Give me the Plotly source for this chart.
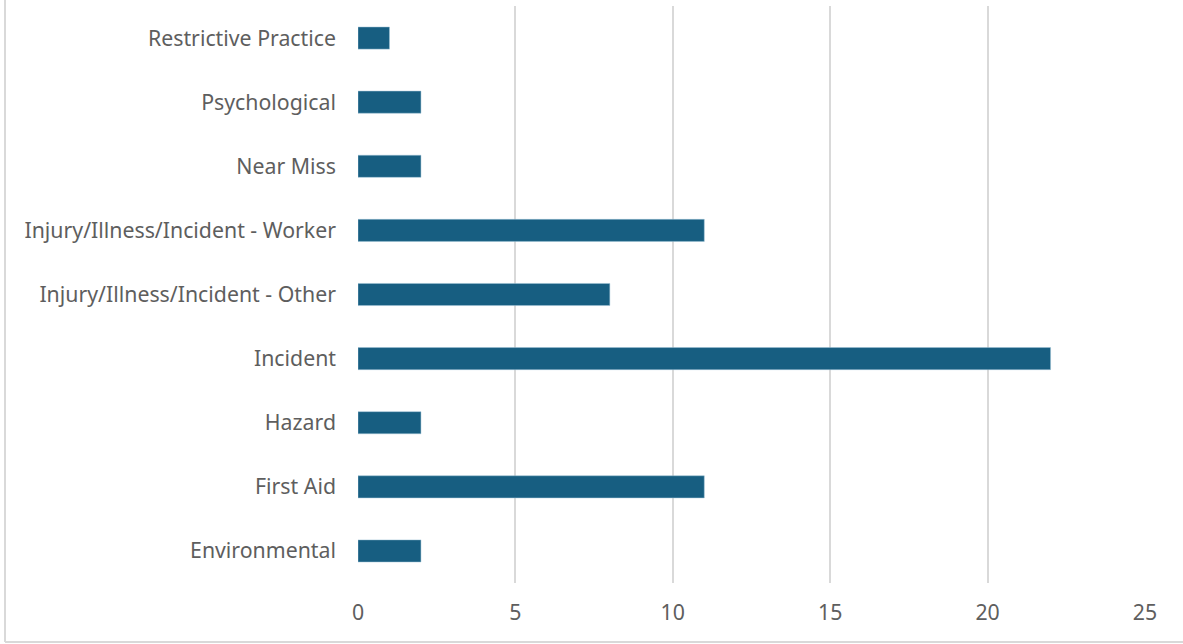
import plotly.graph_objects as go

categories = ["Environmental", "First Aid", "Hazard", "Incident",
              "Injury/Illness/Incident - Other", "Injury/Illness/Incident - Worker",
              "Near Miss", "Psychological", "Restrictive Practice"]
values = [2, 11, 2, 22, 8, 11, 2, 2, 1]
tick_vals = [0, 5, 10, 15, 20, 25]

W, H = 1183, 644
ml, mr, mt, mb = 358, 38, 6, 61

fig = go.Figure(go.Bar(
    x=values, y=categories, orientation="h",
    marker=dict(color="#175E81", line=dict(color="#9FC3D6", width=0.5)),
))

pw = W - ml - mr
ph = H - mt - mb

fig.update_layout(
    width=W, height=H,
    margin=dict(l=ml, r=mr, t=mt, b=mb),
    plot_bgcolor="white", paper_bgcolor="white",
    bargap=0.655,
    showlegend=False,
    font=dict(family="Noto Sans", size=21.3, color="#5E5E5E"),
    xaxis=dict(range=[0, 25], tickvals=tick_vals, showgrid=True,
               gridcolor="#D9D9D9", gridwidth=2, zeroline=False,
               showline=False, ticks="", ticklabelstandoff=15,
               tickfont=dict(size=21.3, color="#5E5E5E"),
               fixedrange=True),
    yaxis=dict(showgrid=False, zeroline=False, showline=False, ticks="",
               ticklabelstandoff=21,
               tickfont=dict(size=21.3, color="#5E5E5E"), fixedrange=True),
    shapes=[
        dict(type="line", xref="paper", yref="paper",
             x0=(5 - ml) / pw, x1=(5 - ml) / pw,
             y0=(H - 642 - mb) / ph, y1=(H - 0 - mb) / ph,
             line=dict(color="#D9D9D9", width=2)),
        dict(type="line", xref="paper", yref="paper",
             x0=(5 - ml) / pw, x1=(W - ml) / pw,
             y0=(H - 642 - mb) / ph, y1=(H - 642 - mb) / ph,
             line=dict(color="#D9D9D9", width=2)),
    ],
)

fig.write_html("out.html", config={"displayModeBar": False},
               post_script="document.body.style.margin='0';document.body.style.overflow='hidden';")
